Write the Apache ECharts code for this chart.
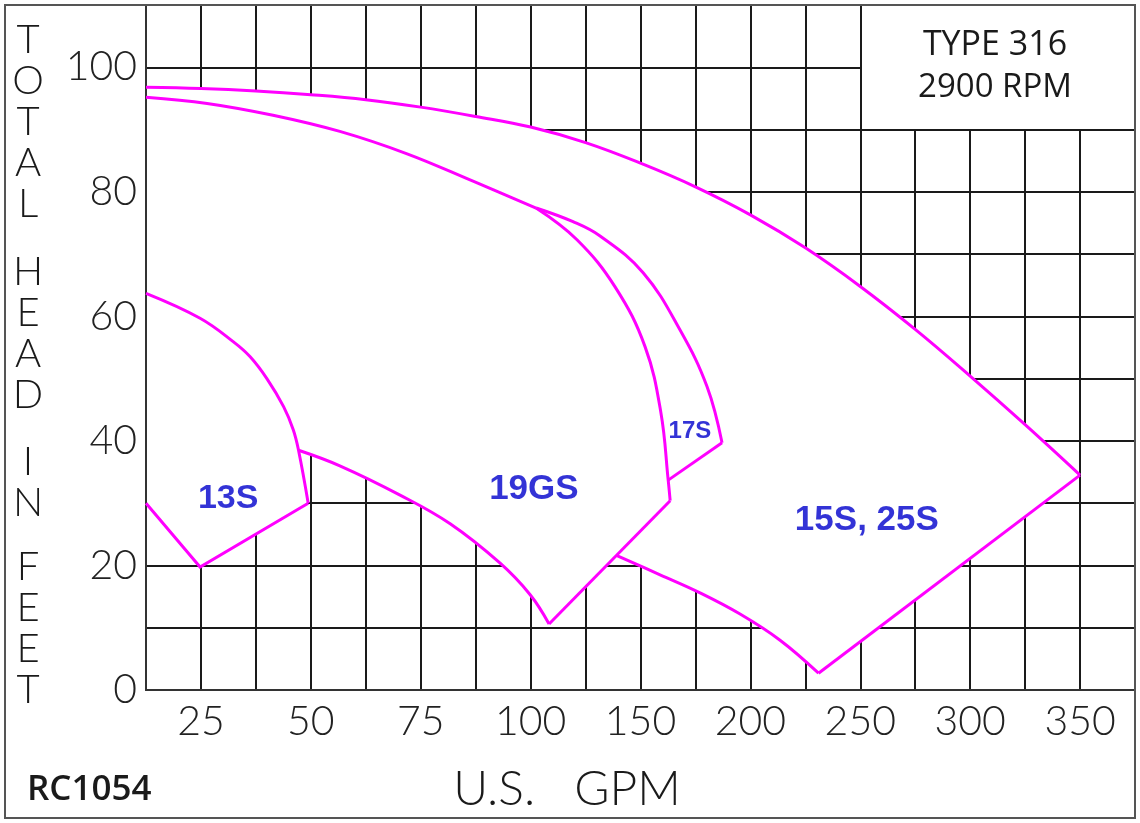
<!DOCTYPE html>
<html><head><meta charset="utf-8">
<script src="https://cdn.jsdelivr.net/npm/echarts@6/dist/echarts.min.js"></script>
<style>html,body{margin:0;padding:0;background:#fff}#c{width:1140px;height:823px}</style>
</head><body><div id="c"></div>
<script>
// ---- tick labels ----
// X axis (U.S. GPM): labels sit on every other vertical grid line (non-uniform scale)
const xTickGpm = [25, 50, 75, 100, 150, 200, 250, 300, 350];
const yTicks = [0, 20, 40, 60, 80, 100];

// ---- curves, [GPM, total head ft] ----
const envelope = [[12.5,96.8],[25,96.6],[37.5,96.2],[50,95.6],[62.5,94.8],[75,93.6],[87.5,92.1],[100,90.4],[125,87.9],[150,84.6],[175,80.8],[200,76.3],[225,71.0],[250,64.8],[275,57.9],[300,50.4],[325,42.6],[350,34.5]];
const envelopeToe = [[350,34.5],[231,2.7]];
const s15Lower = [[139,21.6],[158.9,18.5],[177.1,15.6],[195.3,12.2],[213.5,8.0],[231,2.7]];
const gs19Top = [[12.5,95.2],[26.4,94.2],[41.4,92.3],[56.6,89.7],[71.9,86.1],[86.9,81.7],[102.5,77.4]];
const gs19Right = [[102.5,77.4],[121.1,72.3],[138.5,64.7],[152.1,55.1],[159.3,44.5],[162.6,33.7],[163.5,30.4]];
const gs19Vline = [[163.5,30.4],[108.4,10.6]];
const gs19Bottom = [[47.2,38.5],[56.6,36.0],[70.3,31.3],[81.7,26.7],[93.0,20.4],[99.9,15.3],[108.4,10.6]];
const s17Outer = [[102.5,77.4],[119.3,75.2],[131.6,72.9],[151.2,67.0],[168,57.8],[180.3,48.7],[187.1,39.7]];
const s17Bottom = [[187.1,39.7],[162.6,33.7]];
const s13Top = [[12.5,63.7],[24.8,59.7],[32.4,55.9],[36.2,53.5],[40.0,50.0],[43.8,45.5],[46.0,41.8],[47.2,38.5],[49.4,30.0]];
const s13Bottom = [[49.4,30.0],[24.8,19.75],[12.5,30.0]];

// region labels
const regionNames = ['13S', '19GS', '17S', '15S, 25S'];
const regionGpm = [31.2, 101.5, 172.5, 253];
const regionFt = [30.8, 32.3, 41.6, 27.3];
const regionSize = [34, 35, 24, 35];

// piecewise-linear GPM -> axis position (tick i sits at grid line 2i+1)
function gpmToAxis(g) {
  const n = xTickGpm.length;
  if (g <= xTickGpm[0]) return 1 + (g - xTickGpm[0]) * 2 / (xTickGpm[1] - xTickGpm[0]);
  for (let i = 0; i < n - 1; i++) {
    if (g <= xTickGpm[i + 1]) return 2 * i + 1 + 2 * (g - xTickGpm[i]) / (xTickGpm[i + 1] - xTickGpm[i]);
  }
  return 2 * (n - 1) + 1 + (g - xTickGpm[n - 1]) * 2 / (xTickGpm[n - 1] - xTickGpm[n - 2]);
}
const toAx = arr => arr.map(p => [gpmToAxis(p[0]), p[1]]);

// union outline of all regions (white fill that hides the grid)
const jIdx = s13Top.findIndex(p => p[0] === gs19Bottom[0][0]);
const fillPoly = [].concat(
  envelope,
  envelopeToe.slice(1),
  s15Lower.slice().reverse().slice(1),
  [gs19Vline[1]],
  gs19Bottom.slice().reverse().slice(1),
  s13Top.slice(jIdx + 1),
  s13Bottom.slice(1)
);

const MAG = '#ff00ff';
const FONT = 'Lato';
const curved = [envelope, s15Lower, gs19Top, gs19Right, gs19Bottom, s17Outer, s13Top];
const straight = [envelopeToe, gs19Vline, s17Bottom, s13Bottom];

const chart = echarts.init(document.getElementById('c'), null, {renderer: 'canvas'});
const series = [{
  type: 'custom', z: 1, silent: true,
  data: [[0, 0]],
  renderItem: (params, api) => ({
    type: 'polygon',
    shape: {points: fillPoly.map(p => api.coord([gpmToAxis(p[0]), p[1]]))},
    style: {fill: '#ffffff', stroke: null}
  })
}];
curved.forEach(c => series.push({
  type: 'line', z: 3, data: toAx(c), showSymbol: false, silent: true,
  smooth: 0.4,
  lineStyle: {color: MAG, width: 3}
}));
straight.forEach(c => series.push({
  type: 'line', z: 3, data: toAx(c), showSymbol: false, silent: true,
  smooth: false,
  lineStyle: {color: MAG, width: 3, join: 'miter'}
}));
series.push({
  type: 'scatter', z: 4, symbolSize: 0, silent: true,
  data: regionNames.map((n, i) => ({
    value: [gpmToAxis(regionGpm[i]), regionFt[i]], name: n,
    label: {fontSize: regionSize[i]}
  })),
  label: {show: true, position: 'inside', formatter: p => p.name, color: '#0000cc', fontWeight: 'bold', fontFamily: 'Liberation Sans'}
});

chart.setOption({
  animation: false,
  backgroundColor: '#fff',
  grid: {left: 146, right: 5, top: 5, bottom: 133},
  xAxis: {
    type: 'value', min: 0, max: 18, interval: 1,
    axisLine: {show: true, lineStyle: {color: '#333', width: 2}},
    axisTick: {show: false},
    splitLine: {show: true, lineStyle: {color: '#1a1a1a', width: 2}},
    axisLabel: {
      margin: 11, fontSize: 41, fontFamily: FONT, fontWeight: 300, color: '#222',
      formatter: v => (v % 2 === 1 && xTickGpm[(v - 1) / 2] !== undefined) ? String(xTickGpm[(v - 1) / 2]) : ''
    }
  },
  yAxis: [{
    type: 'value', min: 0, max: 110, interval: 10,
    axisLine: {show: true, lineStyle: {color: '#333', width: 2}},
    axisTick: {show: false},
    splitLine: {show: true, lineStyle: {color: '#1a1a1a', width: 2}},
    axisLabel: {
      margin: 9, fontSize: 41, fontFamily: FONT, fontWeight: 300, color: '#222',
      formatter: v => yTicks.indexOf(v) >= 0 ? String(v) : ''
    }
  }, {
    type: 'value', min: 0, max: 110, position: 'left', z: 2,
    axisLine: {show: true, onZero: false, lineStyle: {color: '#333', width: 2}},
    axisTick: {show: false}, axisLabel: {show: false}, splitLine: {show: false}
  }],
  series: series,
  graphic: [
    {type: 'rect', z: 50, silent: true, shape: {x: 862, y: 6, width: 272, height: 123}, style: {fill: '#fff'}},
    {type: 'text', z: 60, x: 995, y: 45, style: {text: 'TYPE 316', font: '34px "Open Sans"', fill: '#1a1a1a', align: 'center', verticalAlign: 'middle'}},
    {type: 'text', z: 60, x: 995, y: 88, style: {text: '2900 RPM', font: '33px "Open Sans"', fill: '#1a1a1a', align: 'center', verticalAlign: 'middle'}},
    {type: 'text', z: 60, x: 27, y: 790, style: {text: 'RC1054', font: '600 35px "Open Sans"', fill: '#1a1a1a', align: 'left', verticalAlign: 'middle'}},
    {type: 'text', z: 60, x: 567, y: 790, style: {text: 'U.S.   GPM', font: '300 48px ' + FONT, fill: '#1a1a1a', align: 'center', verticalAlign: 'middle'}},
    {type: 'text', z: 60, x: 28, y: 20, style: {text: 'T\nO\nT\nA\nL', font: '300 40px ' + FONT, lineHeight: 41, fill: '#1a1a1a', align: 'center', verticalAlign: 'top'}},
    {type: 'text', z: 60, x: 28, y: 252, style: {text: 'H\nE\nA\nD', font: '300 40px ' + FONT, lineHeight: 41, fill: '#1a1a1a', align: 'center', verticalAlign: 'top'}},
    {type: 'text', z: 60, x: 28, y: 442, style: {text: 'I\nN', font: '300 40px ' + FONT, lineHeight: 41, fill: '#1a1a1a', align: 'center', verticalAlign: 'top'}},
    {type: 'text', z: 60, x: 28, y: 547, style: {text: 'F\nE\nE\nT', font: '300 40px ' + FONT, lineHeight: 41, fill: '#1a1a1a', align: 'center', verticalAlign: 'top'}},
    {type: 'rect', z: 70, silent: true, shape: {x: 5, y: 5, width: 1130, height: 813}, style: {fill: 'none', stroke: '#555', lineWidth: 2}}
  ]
});
</script>
</body></html>
